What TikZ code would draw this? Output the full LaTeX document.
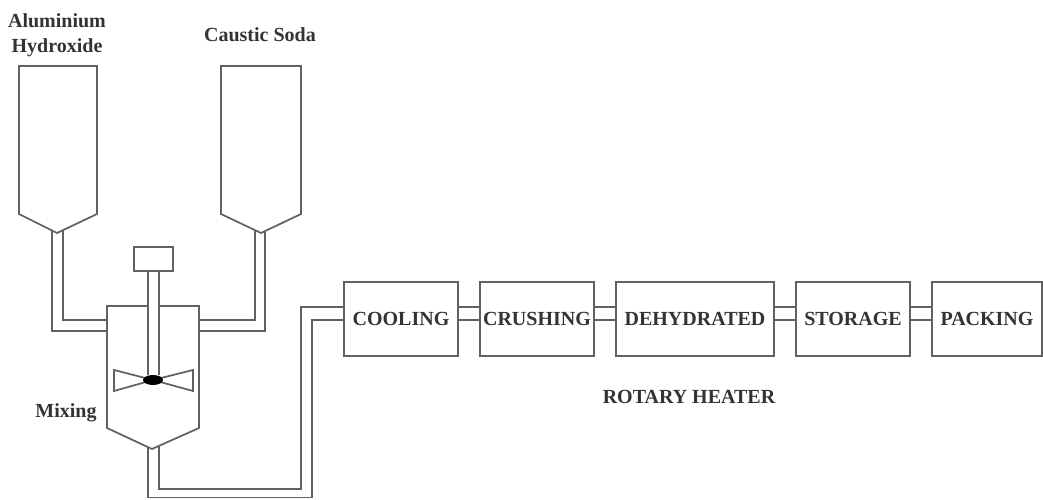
\documentclass[tikz,border=0pt]{standalone}
\usepackage{fontspec}
\setmainfont{Liberation Serif}
\usepackage{tikz}
\usetikzlibrary{positioning,shapes.geometric}
\tikzset{
  unitbox/.style={draw=linegray, line width=1.3pt, minimum width=85.5pt, minimum height=55.5pt, outer sep=0pt, inner sep=0pt},
  lbl/.style={align=center, inner sep=0pt, text=black!80, font=\fontsize{15}{18.5}\selectfont\bfseries},
  pipe/.style={draw=linegray, line width=1.3pt, line join=miter}
}
\definecolor{linegray}{gray}{0.38}
\begin{document}
\begin{tikzpicture}[x=0.75pt, y=-0.75pt, node distance=16.5pt]
\useasboundingbox (0,0) rectangle (1043,500);
% tanks
\coordinate (alIn) at (63,231); \coordinate (alOut) at (52,231);
\coordinate (soIn) at (255,231); \coordinate (soOut) at (265,231);
\coordinate (mixOut) at (148,447); \coordinate (mixIn) at (159,446);
\draw[pipe] (19,66) -- (97,66) -- (97,214) -- (57,233) -- (19,214) -- cycle;
\draw[pipe] (221,66) -- (301,66) -- (301,214) -- (261,233) -- (221,214) -- cycle;
\draw[pipe] (148,306) -- (107,306) -- (107,428) -- (152,449) -- (199,428) -- (199,306) -- (159,306);
\node[lbl] (alum) at (57,35) {Aluminium\\Hydroxide};
\node[lbl] (soda) at (260,35) {Caustic Soda};
\node[lbl] (mixing) at (66,413) {Mixing};
% stirrer
\node[unitbox, minimum width=29pt, minimum height=18pt] (motor) at (153.5,259) {};
\draw[pipe] (148,271) -- (148,375); \draw[pipe] (159,271) -- (159,375);
\draw[pipe] (153,380) -- (114,370) -- (114,391) -- cycle;
\draw[pipe] (153,380) -- (193,370) -- (193,391) -- cycle;
\node[ellipse, fill=black, minimum width=15pt, minimum height=7.5pt, inner sep=0pt] (hub) at (153,380) {};
% process line
\node[unitbox, lbl] (cooling) at (401,319) {COOLING};
\node[unitbox, lbl, right=of cooling] (crushing) {CRUSHING};
\node[unitbox, lbl, right=of crushing, minimum width=118.5pt] (dehydrated) {DEHYDRATED};
\node[unitbox, lbl, right=of dehydrated] (storage) {STORAGE};
\node[unitbox, lbl, right=of storage, minimum width=82.5pt] (packing) {PACKING};
\node[lbl] (rotary) at (689,397) {ROTARY HEATER};
\foreach \a/\b in {cooling/crushing, crushing/dehydrated, dehydrated/storage, storage/packing} {
  \draw[pipe] ([yshift=-.75pt]\a.east) -- ([yshift=-.75pt]\b.west);
  \draw[pipe] ([yshift=9pt]\a.east) -- ([yshift=9pt]\b.west);
}
% pipes
\coordinate (mixL) at (107,320); \coordinate (mixLo) at (107,331);
\coordinate (mixR) at (199,320); \coordinate (mixRo) at (199,331);
\draw[pipe] (alIn) |- (mixL); \draw[pipe] (alOut) |- (mixLo);
\draw[pipe] (soIn) |- (mixR); \draw[pipe] (soOut) |- (mixRo);
\draw[pipe] (mixIn) -- (159,489) -- (301,489) -- (301,307) -- ([yshift=9pt]cooling.west);
\draw[pipe] (mixOut) -- (148,497.5) -- (312,497.5) -- (312,320) -- ([yshift=-.75pt]cooling.west);
\end{tikzpicture}
\end{document}
